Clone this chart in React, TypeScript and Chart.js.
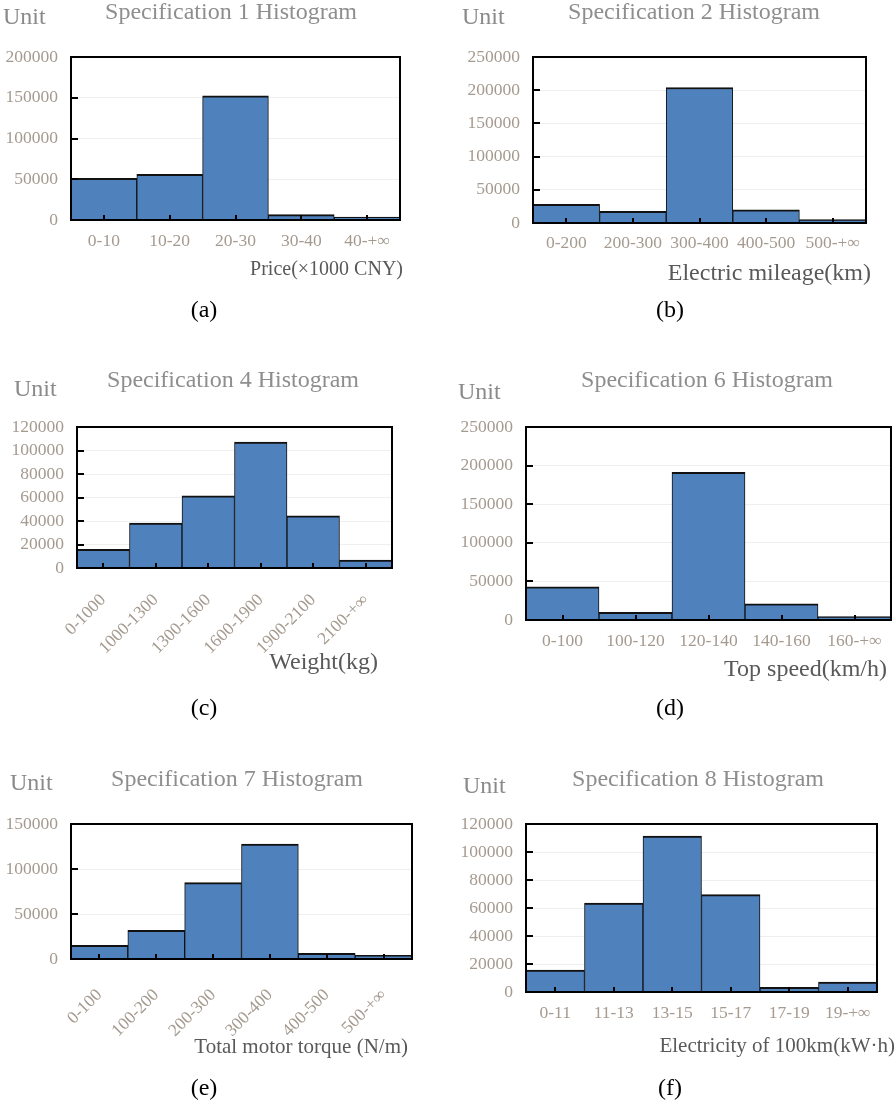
import React, { useEffect, useRef } from "react";
import { Chart, registerables } from "chart.js";

Chart.register(...registerables);

// ---------- data ----------
const catsA = ["0-10", "10-20", "20-30", "30-40", "40-+∞"];
const valsA = [51000, 56000, 152500, 6500, 3700];

const catsB = ["0-200", "200-300", "300-400", "400-500", "500-+∞"];
const valsB = [28000, 17500, 204000, 20000, 5000];

const catsC = ["0-1000", "1000-1300", "1300-1600", "1600-1900", "1900-2100", "2100-+∞"];
const valsC = [15800, 38300, 61500, 107200, 44300, 6800];

const catsD = ["0-100", "100-120", "120-140", "140-160", "160-+∞"];
const valsD = [43100, 10000, 191300, 21100, 4300];

const catsE = ["0-100", "100-200", "200-300", "300-400", "400-500", "500-+∞"];
const valsE = [15200, 31900, 84800, 127800, 6300, 4000];

const catsF = ["0-11", "11-13", "13-15", "15-17", "17-19", "19-+∞"];
const valsF = [15700, 63600, 111400, 69500, 3400, 7100];

const titles = [
  "Specification 1 Histogram",
  "Specification 2 Histogram",
  "Specification 4 Histogram",
  "Specification 6 Histogram",
  "Specification 7 Histogram",
  "Specification 8 Histogram",
];
const axisTitles = [
  "Price(×1000 CNY)",
  "Electric mileage(km)",
  "Weight(kg)",
  "Top speed(km/h)",
  "Total motor torque (N/m)",
  "Electricity of 100km(kW·h)",
];
const captions = ["(a)", "(b)", "(c)", "(d)", "(e)", "(f)"];
const yMax = [200000, 250000, 120000, 250000, 150000, 120000];
const yStep = [50000, 50000, 20000, 50000, 50000, 20000];

// ---------- styles ----------
const FAMILY = "'Liberation Serif', 'Times New Roman', serif";
const BAR = "#4f81bd";
const TICK_COLOR = "#a59a8f";
const TITLE_COLOR = "#8e8e8e";
const UNIT_COLOR = "#8a8a8a";
const AXIS_TITLE_COLOR = "#595959";

type Txt = { text: string; x: number; y: number; size: number; color: string; align: CanvasTextAlign };

type Spec = {
  left: number;
  top: number;
  w: number;
  h: number;
  plot: { l: number; r: number; t: number; b: number };
  cats: string[];
  vals: number[];
  max: number;
  step: number;
  rot: number;
  xPad: number;
  texts: Txt[];
};

function mkTexts(i: number, title: [number, number], unit: [number, number], axis: [number, number, number], cap: [number, number]): Txt[] {
  return [
    { text: titles[i], x: title[0], y: title[1], size: 24, color: TITLE_COLOR, align: "center" },
    { text: "Unit", x: unit[0], y: unit[1], size: 24, color: UNIT_COLOR, align: "left" },
    { text: axisTitles[i], x: axis[0], y: axis[1], size: axis[2], color: AXIS_TITLE_COLOR, align: "right" },
    { text: captions[i], x: cap[0], y: cap[1], size: 24, color: "#000000", align: "center" },
  ];
}

const specs: Spec[] = [
  {
    left: 0, top: 0, w: 448, h: 360,
    plot: { l: 71, r: 400, t: 57, b: 220 },
    cats: catsA, vals: valsA, max: yMax[0], step: yStep[0], rot: 0, xPad: 11,
    texts: mkTexts(0, [231, 19], [3, 24], [403, 275, 20], [204, 317]),
  },
  {
    left: 448, top: 0, w: 448, h: 360,
    plot: { l: 533, r: 866, t: 57, b: 223 },
    cats: catsB, vals: valsB, max: yMax[1], step: yStep[1], rot: 0, xPad: 10,
    texts: mkTexts(1, [694, 19], [462, 24], [871, 280, 24], [670, 317]),
  },
  {
    left: 0, top: 360, w: 448, h: 370,
    plot: { l: 77, r: 392, t: 427, b: 568 },
    cats: catsC, vals: valsC, max: yMax[2], step: yStep[2], rot: 45, xPad: 22,
    texts: mkTexts(2, [233, 387], [14, 396], [378, 669, 24], [204, 715]),
  },
  {
    left: 448, top: 360, w: 448, h: 370,
    plot: { l: 526, r: 891, t: 427, b: 620 },
    cats: catsD, vals: valsD, max: yMax[3], step: yStep[3], rot: 0, xPad: 11,
    texts: mkTexts(3, [707, 387], [458, 399], [887, 676, 24], [670, 715]),
  },
  {
    left: 0, top: 730, w: 448, h: 373,
    plot: { l: 71, r: 412, t: 824, b: 959 },
    cats: catsE, vals: valsE, max: yMax[4], step: yStep[4], rot: 45, xPad: 26,
    texts: mkTexts(4, [237, 786], [10, 790], [408, 1053, 21], [204, 1095]),
  },
  {
    left: 448, top: 730, w: 448, h: 373,
    plot: { l: 526, r: 877, t: 824, b: 992 },
    cats: catsF, vals: valsF, max: yMax[5], step: yStep[5], rot: 0, xPad: 11,
    texts: mkTexts(5, [698, 786], [463, 793], [895, 1052, 21], [670, 1095]),
  },
];

const framePlugin = {
  id: "frame",
  afterDatasetsDraw(chart: any, _args: any, opts: any) {
    const { ctx, chartArea, scales } = chart;
    const { left, right, top, bottom } = chartArea;
    const x = scales.x;
    const y = scales.y;
    ctx.save();
    ctx.strokeStyle = "#000000";
    ctx.lineWidth = 2;
    ctx.beginPath();
    const n = chart.data.labels.length;
    for (let i = 0; i < n; i++) {
      const px = Math.round(x.getPixelForTick(i));
      ctx.moveTo(px, bottom);
      ctx.lineTo(px, bottom - 5);
    }
    y.ticks.forEach((t: any) => {
      const py = Math.round(y.getPixelForValue(t.value));
      ctx.moveTo(left, py);
      ctx.lineTo(left + 7, py);
    });
    ctx.stroke();
    ctx.strokeRect(left, top, right - left, bottom - top);
    ctx.restore();
  },
  afterDraw(chart: any, _args: any, opts: any) {
    const { ctx } = chart;
    const texts: Txt[] = opts.texts || [];
    ctx.save();
    texts.forEach((t) => {
      ctx.font = `${t.size}px ${FAMILY}`;
      ctx.fillStyle = t.color;
      ctx.textAlign = t.align;
      ctx.textBaseline = "alphabetic";
      ctx.fillText(t.text, t.x - opts.ox, t.y - opts.oy);
    });
    ctx.restore();
  },
};

function HistChart({ spec }: { spec: Spec }) {
  const ref = useRef<HTMLCanvasElement>(null);
  useEffect(() => {
    const s = spec;
    const relL = s.plot.l - s.left;
    const relR = s.plot.r - s.left;
    const relT = s.plot.t - s.top;
    const relB = s.plot.b - s.top;
    const chart = new Chart(ref.current as HTMLCanvasElement, {
      type: "bar",
      data: {
        labels: s.cats,
        datasets: [
          {
            data: s.vals,
            backgroundColor: BAR,
            borderColor: "#111111",
            borderWidth: { top: 2, left: 1, right: 1, bottom: 0 },
            borderSkipped: false,
            barPercentage: 1,
            categoryPercentage: 1,
          },
        ],
      },
      options: {
        responsive: false,
        animation: false,
        devicePixelRatio: 1,
        layout: { padding: { left: 0, top: relT, right: s.w - relR, bottom: 0 } },
        plugins: {
          legend: { display: false },
          title: { display: false },
          tooltip: { enabled: false },
          frame: { texts: s.texts, ox: s.left, oy: s.top },
        } as any,
        scales: {
          x: {
            grid: { display: false, drawTicks: false },
            border: { display: false },
            ticks: {
              color: TICK_COLOR,
              font: { family: FAMILY, size: 17.5 },
              padding: s.xPad,
              maxRotation: s.rot,
              minRotation: s.rot,
              autoSkip: false,
            },
            afterFit: (sc: any) => {
              sc.height = s.h - relB;
            },
          },
          y: {
            min: 0,
            max: s.max,
            ticks: {
              stepSize: s.step,
              color: TICK_COLOR,
              font: { family: FAMILY, size: 17.5 },
              padding: 13,
              autoSkip: false,
              callback: (v: any) => String(v),
            },
            grid: { color: "#efefef", lineWidth: 1, drawTicks: false },
            border: { display: false },
            afterFit: (sc: any) => {
              sc.width = relL;
            },
          },
        },
      } as any,
      plugins: [framePlugin as any],
    });
    return () => chart.destroy();
  }, [spec]);
  return (
    <canvas
      ref={ref}
      width={spec.w}
      height={spec.h}
      style={{ position: "absolute", left: spec.left, top: spec.top, width: spec.w, height: spec.h }}
    />
  );
}

export default function App() {
  return (
    <div style={{ position: "absolute", left: 0, top: 0, width: 896, height: 1103, background: "#ffffff", overflow: "hidden" }}>
      {specs.map((s, i) => (
        <HistChart key={i} spec={s} />
      ))}
    </div>
  );
}
